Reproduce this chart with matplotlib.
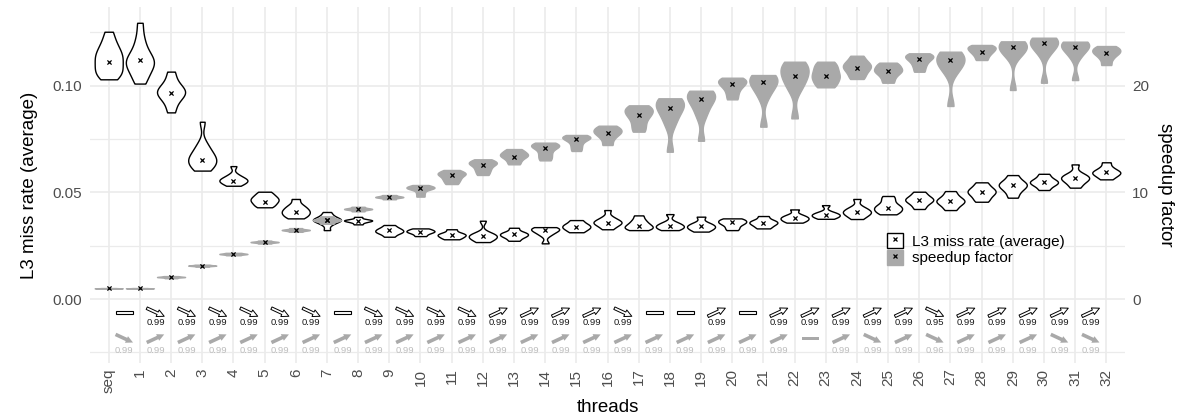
import numpy as np
import matplotlib.pyplot as plt
from matplotlib.patches import Patch, Rectangle
from matplotlib.lines import Line2D

plt.rcParams['font.family'] = ['Liberation Sans', 'DejaVu Sans']

threads = ['seq', '1', '2', '3', '4', '5', '6', '7', '8', '9', '10', '11', '12', '13', '14', '15', '16',
           '17', '18', '19', '20', '21', '22', '23', '24', '25', '26', '27', '28', '29', '30', '31', '32']

# L3 miss rate samples, in units of 1e-3
l3_samples_milli = [
    [103, 104.5, 106, 107, 108.5, 110, 111.5, 113, 114, 115.5, 117, 119, 121.5, 125.3],
    [101, 103.5, 106, 108, 109.5, 110.5, 111.5, 112.5, 114, 116, 119, 123, 129.5],
    [87.5, 91, 93.5, 95, 96, 97, 98, 99, 100.5, 103, 106.6],
    [60.2, 61.5, 63, 64, 65, 66, 67, 68.5, 70.5, 73, 83.1],
    [53.1, 54, 54.8, 55.3, 55.8, 56.3, 57, 58.3, 62.3],
    [43, 44, 45, 45.8, 46.5, 47.2, 48, 49, 50.3],
    [37.8, 38.8, 39.7, 40.5, 41.2, 42, 43, 44.2, 46.9],
    [32.3, 35, 36.2, 36.8, 37.1, 37.4, 38, 39.2, 40.8],
    [35, 36, 36.5, 36.8, 37.0, 37.3, 38.5],
    [29.2, 30.5, 31.2, 31.7, 32.2, 32.8, 33.5, 34.7],
    [29.5, 30.5, 31.2, 31.6, 32, 32.5, 33.1],
    [28, 28.8, 29.5, 30, 30.5, 31.2, 32.7],
    [26.7, 27.8, 28.6, 29.2, 29.7, 30.3, 31, 36.7],
    [27.3, 28.8, 29.6, 30.2, 30.8, 31.5, 33.4],
    [26.1, 30, 31.3, 32.2, 32.8, 33.2, 33.7],
    [31.3, 32.5, 33.3, 34, 34.7, 35.6, 37],
    [32.7, 34, 35, 35.6, 36, 36.5, 37.3, 38.5, 41.7],
    [32.3, 33, 33.6, 34.2, 35, 36, 37.3, 39.2],
    [32.3, 33.1, 33.8, 34.3, 35, 36, 39.8],
    [31.6, 32.7, 33.5, 34.1, 34.8, 35.8, 38.6],
    [32.3, 33.5, 34.7, 35.5, 36, 36.6, 37.2, 37.8],
    [33.1, 34.3, 35.2, 35.8, 36.4, 37.2, 38.9],
    [35.8, 36.7, 37.4, 38, 38.6, 39.5, 42],
    [37.6, 38.4, 39, 39.5, 40, 40.8, 44],
    [37.5, 39, 39.9, 40.6, 41.2, 42, 43.2, 46.9],
    [39.7, 40.8, 41.8, 42.6, 43.4, 44.5, 46.5, 48.3],
    [42.2, 44, 45.3, 46.1, 46.8, 47.5, 48.7, 50.3],
    [41.7, 43.5, 44.8, 45.6, 46.3, 47.2, 48.6, 50.6],
    [45.6, 47.3, 48.8, 49.8, 50.6, 51.5, 52.8, 54.7],
    [47.5, 50, 51.7, 52.8, 53.6, 54.5, 55.8, 58.1],
    [51.1, 52.8, 53.8, 54.5, 55.1, 55.8, 57, 58.7],
    [52.2, 54.2, 55.5, 56.4, 57, 57.7, 59, 63.1],
    [56.1, 57.5, 58.4, 59.1, 59.7, 60.4, 61.8, 64.1],
]
l3_mean_milli = [111.3, 111.9, 96.7, 65.3, 55.5, 45.5, 40.8, 37.0, 36.7, 32.2, 31.6, 30.0, 29.4,
                 30.3, 32.2, 33.9, 35.8, 34.4, 34.2, 34.4, 35.9, 35.8, 38.0, 39.4, 40.9, 42.8,
                 46.4, 45.9, 50.3, 53.3, 54.7, 56.9, 59.5]

speedup_samples = [
    [0.97, 0.99, 1.0, 1.01, 1.03],
    [0.97, 0.99, 1.0, 1.01, 1.03],
    [1.95, 2.03, 2.06, 2.09, 2.15],
    [3.03, 3.1, 3.13, 3.16, 3.22],
    [4.1, 4.18, 4.22, 4.26, 4.33],
    [5.2, 5.3, 5.34, 5.38, 5.48],
    [6.3, 6.42, 6.47, 6.52, 6.65],
    [7.05, 7.3, 7.4, 7.5, 7.75],
    [8.22, 8.38, 8.44, 8.5, 8.65],
    [9.35, 9.5, 9.56, 9.62, 9.75],
    [9.6, 9.95, 10.3, 10.4, 10.45, 10.52, 10.69],
    [10.78, 11.1, 11.35, 11.6, 11.75, 11.85, 12.1],
    [11.63, 12.0, 12.3, 12.6, 12.75, 12.85, 13.1],
    [12.63, 13.0, 13.3, 13.45, 13.6, 13.8, 14.06],
    [13.0, 13.4, 13.8, 14.2, 14.35, 14.45, 14.66],
    [13.88, 14.3, 14.7, 15.0, 15.15, 15.2, 15.38],
    [14.44, 15.0, 15.4, 15.6, 15.8, 16.0, 16.25],
    [15.69, 16.3, 16.9, 17.3, 17.6, 17.85, 18.16],
    [13.81, 16.3, 17.1, 17.7, 18.1, 18.4, 18.6, 18.82],
    [14.84, 17.1, 17.9, 18.5, 18.9, 19.15, 19.35, 19.53],
    [18.72, 19.3, 19.8, 20.1, 20.35, 20.55, 20.75],
    [16.16, 18.97, 19.8, 20.3, 20.6, 20.8, 21.0],
    [16.94, 19.6, 20.3, 20.8, 21.2, 21.6, 22.0, 22.25],
    [19.85, 20.3, 20.7, 21.0, 21.4, 21.8, 22.25],
    [20.63, 21.1, 21.5, 21.75, 22.0, 22.3, 22.81],
    [20.28, 20.8, 21.2, 21.4, 21.6, 21.9, 22.16],
    [21.31, 21.8, 22.2, 22.5, 22.7, 22.85, 23.04],
    [18.1, 21.3, 21.9, 22.3, 22.6, 22.85, 23.19],
    [22.41, 22.8, 23.1, 23.3, 23.5, 23.65, 23.82],
    [19.6, 22.8, 23.3, 23.6, 23.8, 24.0, 24.16],
    [20.28, 23.0, 23.6, 23.95, 24.2, 24.35, 24.5],
    [20.53, 22.7, 23.3, 23.65, 23.9, 24.0, 24.13],
    [21.94, 22.5, 22.9, 23.1, 23.3, 23.5, 23.72],
]
speedup_mean = [1.0, 1.0, 2.06, 3.13, 4.22, 5.34, 6.47, 7.4, 8.44, 9.56, 10.38, 11.63, 12.56,
                13.31, 14.19, 15.0, 15.6, 17.28, 17.94, 18.78, 20.13, 20.38, 20.91, 20.91,
                21.66, 21.35, 22.53, 22.38, 23.19, 23.63, 23.97, 23.66, 23.1]

# trend between consecutive thread counts: -1 down, 0 flat, 1 up
l3_trend = [0, -1, -1, -1, -1, -1, -1, 0, -1, -1, -1, -1, 1, 1, 1, 1, -1, 0, 0, 1, 0,
            1, 1, 1, 1, 1, -1, 1, 1, 1, 1, 1]
l3_trend_p = ['', '0.99', '0.99', '0.99', '0.99', '0.99', '0.99', '', '0.99', '0.99', '0.99',
              '0.99', '0.99', '0.99', '0.99', '0.99', '0.99', '', '', '0.99', '', '0.99',
              '0.99', '0.99', '0.99', '0.99', '0.95', '0.99', '0.99', '0.99', '0.99', '0.99']
speedup_trend = [-1, 1, 1, 1, 1, 1, 1, 1, 1, 1, 1, 1, 1, 1, 1, 1, 1, 1, 1, 1, 1, 1,
                 0, 1, -1, 1, -1, 1, 1, 1, -1, -1]
speedup_trend_p = ['0.99'] * 22 + ['', '0.99', '0.99', '0.99', '0.96', '0.99', '0.99', '0.99',
                                   '0.99', '0.99']

speedup_scale = 200  # secondary axis: speedup = miss rate * 200
GRAY = '#A9A9A9'
GRID = '#EBEBEB'
TICK = '#4D4D4D'

fig = plt.figure(figsize=(11.89, 4.18), dpi=100)
ax = fig.add_axes([90 / 1189, 1 - 363 / 418, 1035 / 1189, 356 / 418])

pos = np.arange(1, len(threads) + 1)
l3_data = [np.array(s) / 1000 for s in l3_samples_milli]
sp_data = [np.array(s) / speedup_scale for s in speedup_samples]

v1 = ax.violinplot(l3_data, positions=pos, widths=0.9, showextrema=False, bw_method=0.45, points=200)
for b in v1['bodies']:
    b.set_facecolor('white')
    b.set_edgecolor('black')
    b.set_linewidth(1.0)
    b.set_alpha(1)
    b.set_zorder(2)

v2 = ax.violinplot(sp_data, positions=pos, widths=0.9, showextrema=False, bw_method=0.45, points=200)
for b in v2['bodies']:
    b.set_facecolor(GRAY)
    b.set_edgecolor(GRAY)
    b.set_linewidth(1.0)
    b.set_alpha(1)
    b.set_zorder(3)

ax.scatter(pos, np.array(l3_mean_milli) / 1000, marker='x', s=9, color='black', linewidths=0.9, zorder=4)
ax.scatter(pos, np.array(speedup_mean) / speedup_scale, marker='x', s=9, color='black',
           linewidths=0.9, zorder=4)

# trend arrows between neighbouring thread counts
dx, dy = 0.28, 0.0019
y_black, y_black_txt = -0.0062, -0.0112
y_gray, y_gray_txt = -0.0185, -0.0240
for i, (d, p) in enumerate(zip(l3_trend, l3_trend_p)):
    xc = pos[i] + 0.5
    if d == 0:
        ax.add_patch(Rectangle((xc - 0.27, y_black - 0.0007), 0.54, 0.0014, fc='white', ec='black',
                               lw=0.8, zorder=3))
    else:
        ax.annotate('', xy=(xc + dx, y_black + d * dy), xytext=(xc - dx, y_black - d * dy),
                    arrowprops=dict(arrowstyle='simple,head_length=0.8,head_width=0.8,tail_width=0.3',
                                    fc='white', ec='black', lw=0.7, shrinkA=0, shrinkB=0,
                                    mutation_scale=6.5))
    ax.text(xc, y_black_txt, p, ha='center', va='center', fontsize=6.8, color='#1A1A1A')

for i, (d, p) in enumerate(zip(speedup_trend, speedup_trend_p)):
    xc = pos[i] + 0.5
    if d == 0:
        ax.add_patch(Rectangle((xc - 0.27, y_gray - 0.0008), 0.54, 0.0016, fc=GRAY, ec='none', zorder=3))
    else:
        ax.annotate('', xy=(xc + dx, y_gray + d * dy), xytext=(xc - dx, y_gray - d * dy),
                    arrowprops=dict(arrowstyle='simple,head_length=0.8,head_width=0.8,tail_width=0.4',
                                    fc=GRAY, ec='none', shrinkA=0, shrinkB=0, mutation_scale=6.5))
    ax.text(xc, y_gray_txt, p, ha='center', va='center', fontsize=6.8, color='#BDBDBD')

ax.set_xlim(0.4, len(threads) + 0.6)
ax.set_ylim(-0.0300, 0.1369)
ax.set_xticks(pos)
ax.set_xticklabels(threads, rotation=90, fontsize=11, color=TICK)
ax.set_yticks([0, 0.05, 0.10])
ax.set_yticklabels(['0.00', '0.05', '0.10'], fontsize=11, color=TICK)
ax.set_yticks([-0.025, 0.025, 0.075, 0.125], minor=True)
ax.tick_params(axis='both', which='both', length=0)
ax.tick_params(axis='x', pad=4)
ax.tick_params(axis='y', pad=6)
ax.grid(True, which='major', color=GRID, lw=1.2)
ax.grid(True, which='minor', axis='y', color=GRID, lw=0.9)
ax.set_axisbelow(True)
for s in ax.spines.values():
    s.set_visible(False)

ax.set_xlabel('threads', fontsize=13.5, labelpad=4)
ax.set_ylabel('L3 miss rate (average)', fontsize=13.5, labelpad=10)

sec = ax.secondary_yaxis('right', functions=(lambda v: v * speedup_scale, lambda v: v / speedup_scale))
sec.set_yticks([0, 10, 20])
sec.set_yticklabels(['0', '10', '20'], fontsize=11, color=TICK)
sec.tick_params(length=0, pad=5)
sec.spines['right'].set_visible(False)
sec.set_ylabel('speedup factor', fontsize=13.5, rotation=270, labelpad=18)

handles = [
    (Patch(fc='white', ec='black', lw=1.0), Line2D([], [], marker='x', color='black', ls='', ms=3, mew=0.9)),
    (Patch(fc=GRAY, ec=GRAY), Line2D([], [], marker='x', color='black', ls='', ms=3, mew=0.9)),
]
fig.legend(handles, ['L3 miss rate (average)', 'speedup factor'], loc='upper left',
           bbox_to_anchor=(887 / 1189, 1 - 233 / 418), frameon=False, fontsize=11,
           handlelength=1.05, handleheight=1.15, handletextpad=0.6, labelspacing=0.05,
           borderpad=0, borderaxespad=0)

fig.savefig('out.png', dpi=100)
